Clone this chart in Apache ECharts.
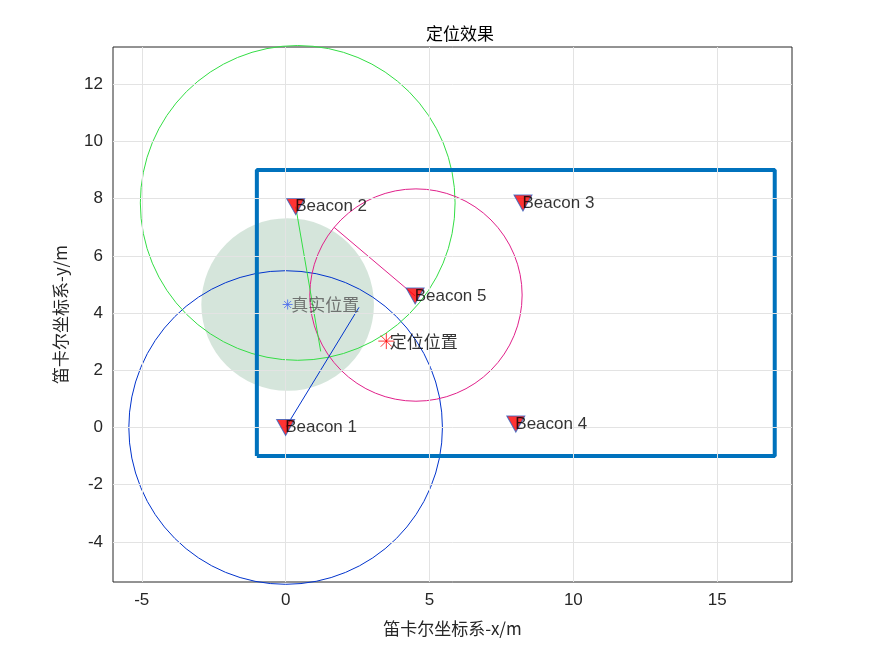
<!DOCTYPE html>
<html><head><meta charset="utf-8">
<script src="https://cdn.jsdelivr.net/npm/echarts@6/dist/echarts.min.js"></script>
<style>html,body{margin:0;background:#fff}#c{width:875px;height:656px}</style>
</head><body><div id="c"></div>
<script>
var xTicks = [-5, 0, 5, 10, 15]
var yTicks = [-4, -2, 0, 2, 4, 6, 8, 10, 12]
var beaconNames = ["Beacon 1", "Beacon 2", "Beacon 3", "Beacon 4", "Beacon 5"]
var beaconPos = [[0, 0], [0.35, 7.72], [8.25, 7.85], [8.0, 0.12], [4.5, 4.6]]
// circles: [cx, cy, r, color]
var rangeCircles = [[0, 0, 5.45, "#0033cc"], [0.42, 7.85, 5.47, "#33dd44"], [4.53, 4.63, 3.69, "#e0208a"]]
var radiusLines = [[[0, 0], [2.55, 4.2], "#0033cc"], [[0.35, 7.72], [1.22, 2.66], "#33dd44"], [[4.5, 4.6], [1.68, 7.0], "#e0208a"]]
var truePos = [0.07, 4.3]
var estPos = [3.5, 3.02]
var errRadius = 3.0
var areaBox = [[-1, -1], [17, -1], [17, 9], [-1, 9], [-1, -1]]

var chart = echarts.init(document.getElementById("c"))
var font = "'Noto Sans CJK SC', 'Noto Sans', sans-serif"

function circleSeries(cx, cy, r, stroke, fill, z) {
    return {
        type: "custom", z: z, silent: true,
        data: [[cx, cy, r]],
        renderItem: function (params, api) {
            var c = api.coord([api.value(0), api.value(1)])
            var rr = api.size([api.value(2), 0])[0]
            return {
                type: "circle",
                shape: { cx: c[0], cy: c[1], r: rr },
                style: { fill: fill || "none", stroke: stroke || "none", lineWidth: 1 }
            }
        }
    }
}

var series = []
series.push(circleSeries(truePos[0], truePos[1], errRadius, null, "rgba(190,215,200,0.65)", 1))
rangeCircles.forEach(function (c) { series.push(circleSeries(c[0], c[1], c[2], c[3], null, 2)) })
radiusLines.forEach(function (l) {
    series.push({ type: "line", data: [l[0], l[1]], symbol: "none", lineStyle: { color: l[2], width: 1 }, z: 3 })
})
series.push({
    type: "line", data: areaBox, symbol: "none", lineStyle: { color: "#0072BD", width: 4 }, z: 4,
    markLine: {
        silent: true, symbol: "none", animation: false,
        lineStyle: { color: "#e3e3e3", width: 1, type: "solid" }, label: { show: false },
        data: xTicks.map(function (v) { return { xAxis: v } }).concat(yTicks.map(function (v) { return { yAxis: v } }))
    }
})
series.push({
    type: "scatter", z: 6,
    data: beaconPos.map(function (p, i) { return { value: p, name: beaconNames[i] } }),
    symbol: "triangle", symbolRotate: 180, symbolSize: [18, 16],
    itemStyle: { color: "#ff0000", borderColor: "#3060c0", borderWidth: 1 },
    label: { show: true, position: "right", offset: [-15, 0], formatter: "{b}", color: "#000", fontSize: 17, fontFamily: "Arial, 'Liberation Sans'" }
})
series.push({
    type: "scatter", z: 7, data: [{ value: truePos, name: "真实位置" }],
    symbol: "path://M0,-5L0,5M-5,0L5,0M-3.5,-3.5L3.5,3.5M-3.5,3.5L3.5,-3.5", symbolSize: 10,
    itemStyle: { color: "none", borderColor: "#4466ee", borderWidth: 1 },
    label: { show: true, position: "right", offset: [-9, 0], formatter: "{b}", color: "#555", fontSize: 17, fontFamily: font }
})
series.push({
    type: "scatter", z: 7, data: [{ value: estPos, name: "定位位置" }],
    symbol: "path://M0,-5L0,5M-5,0L5,0M-3.5,-3.5L3.5,3.5M-3.5,3.5L3.5,-3.5", symbolSize: 16,
    itemStyle: { color: "none", borderColor: "#ff0000", borderWidth: 1 },
    label: { show: true, position: "right", offset: [-12, 0], formatter: "{b}", color: "#000", fontSize: 17, fontFamily: font }
})

chart.setOption({
    animation: false,
    title: { text: "定位效果", left: 455, top: 20, textAlign: "center", textStyle: { fontSize: 17, fontWeight: "normal", color: "#000", fontFamily: font } },
    grid: { left: 113, right: 83, top: 47, bottom: 74, show: true, borderColor: "#262626", borderWidth: 1 },
    xAxis: {
        type: "value", min: -6, max: 17.6,
        name: "笛卡尔坐标系-x/m", nameLocation: "middle", nameGap: 38,
        nameTextStyle: { fontSize: 17, color: "#262626", fontFamily: font },
        axisLine: { show: false }, splitLine: { show: false },
        axisTick: { inside: true, length: 6, lineStyle: { color: "#262626" }, customValues: xTicks },
        axisLabel: { fontSize: 17, color: "#262626", fontFamily: "Arial, 'Liberation Sans'", customValues: xTicks, margin: 10 }
    },
    yAxis: {
        type: "value", min: -5.4, max: 13.3,
        name: "笛卡尔坐标系-y/m", nameLocation: "middle", nameGap: 44,
        nameTextStyle: { fontSize: 17, color: "#262626", fontFamily: font },
        axisLine: { show: false }, splitLine: { show: false },
        axisTick: { inside: true, length: 6, lineStyle: { color: "#262626" }, customValues: yTicks },
        axisLabel: { fontSize: 17, color: "#262626", fontFamily: "Arial, 'Liberation Sans'", customValues: yTicks, margin: 10 }
    },
    series: series
})
</script></body></html>
